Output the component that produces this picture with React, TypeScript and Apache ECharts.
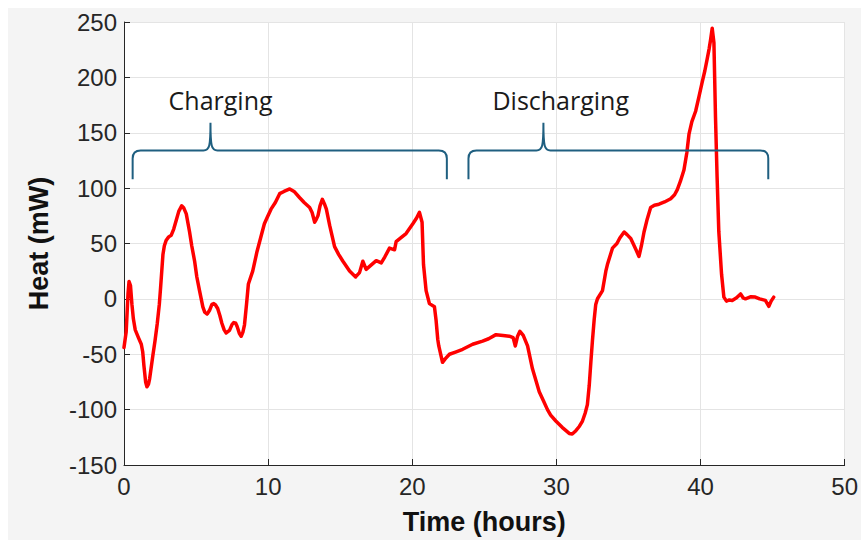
import React, { useEffect, useRef } from "react";
import * as echarts from "echarts";

// ---- Data ----
const timeHours = [
  0.0, 0.15, 0.28, 0.35, 0.45, 0.55, 0.65, 0.78, 1.0, 1.2, 1.3, 1.38, 1.5, 1.59, 1.7, 1.78, 2.0, 2.15, 2.31, 2.45,
  2.54, 2.62, 2.7, 2.8, 2.93, 3.1, 3.28, 3.45, 3.62, 3.8, 4.0, 4.15, 4.32, 4.55, 4.7, 4.9, 5.05, 5.24, 5.47, 5.6,
  5.77, 5.95, 6.1, 6.23, 6.35, 6.5, 6.65, 6.79, 6.95, 7.09, 7.32, 7.5, 7.62, 7.75, 7.85, 8.0, 8.13, 8.25, 8.36, 8.5,
  8.63, 8.93, 9.23, 9.56, 9.74, 9.95, 10.2, 10.5, 10.8, 11.1, 11.5, 11.8, 12.19, 12.5, 12.88, 13.05, 13.23, 13.35, 13.46, 13.6,
  13.76, 13.9, 14.04, 14.27, 14.61, 14.9, 15.19, 15.65, 16.07, 16.34, 16.57, 16.8, 17.1, 17.5, 17.85, 18.1, 18.42, 18.77, 18.88, 19.2,
  19.57, 20.04, 20.3, 20.5, 20.68, 20.78, 20.96, 21.19, 21.54, 21.65, 21.77, 21.84, 22.1, 22.3, 22.58, 23.0, 23.5, 24.19, 24.88, 25.3,
  25.81, 26.3, 26.73, 27.0, 27.15, 27.3, 27.47, 27.7, 28.0, 28.34, 28.81, 29.1, 29.38, 29.6, 29.96, 30.4, 30.89, 31.1, 31.35, 31.6,
  31.81, 32.0, 32.15, 32.28, 32.39, 32.5, 32.62, 32.73, 32.85, 33.2, 33.43, 33.54, 33.89, 34.2, 34.4, 34.7, 34.9, 35.16, 35.5, 35.73,
  35.9, 36.08, 36.3, 36.54, 36.8, 37.12, 37.5, 37.93, 38.2, 38.39, 38.6, 38.85, 39.05, 39.2, 39.4, 39.66, 39.9, 40.12, 40.3, 40.46,
  40.6, 40.7, 40.81, 40.93, 41.04, 41.15, 41.27, 41.46, 41.62, 41.8, 42.0, 42.2, 42.5, 42.78, 42.95, 43.12, 43.5, 43.8, 44.1, 44.5,
  44.74, 44.9, 45.08,
];
const heatMW = [
  -44, -30, 5, 15.7, 12, -5, -18, -28, -35, -41, -48, -60, -75, -79.4, -77, -72, -51.4, -38, -22, -5,
  10.4, 25, 39.8, 48, 53, 56, 57.5, 63, 70.8, 79, 84, 82, 76.7, 60.4, 48, 34, 20, 7.5, -7.2, -12,
  -13.7, -10, -5, -4.3, -5.5, -8.7, -15, -22, -28, -30.8, -28.4, -23, -21.4, -22, -24.9, -31, -33.7, -30, -23.4, -5,
  13.4, 25.1, 42.8, 59, 67.8, 74, 81, 87, 95, 97, 99.3, 97, 91.3, 87, 82.5, 78, 69.2, 72, 75.2, 84,
  89.9, 86, 81, 66.3, 47.2, 40, 34, 25.1, 19.8, 23.7, 34, 26.6, 30, 34.5, 32.5, 38, 45.8, 44.3, 51.6, 55,
  59, 67.8, 73, 78.1, 69.2, 31, 7.5, -4.3, -7.2, -19, -36.7, -42.5, -57.3, -54, -50, -48, -45.5, -41, -38.1, -36,
  -32.3, -33, -33.7, -35, -42.5, -34, -29.3, -33, -42.5, -63.2, -83.8, -92, -100, -105, -110.3, -116, -121.5, -122, -119, -115,
  -110.3, -103, -95.5, -78, -57.3, -38, -19, -5, 0.1, 7.5, 25, 31, 45.8, 50, 55, 60.4, 58, 54.6, 45, 38.3,
  48, 60.4, 72, 82.5, 84.5, 85.5, 87.5, 90.4, 94, 98.7, 106, 116.4, 132, 148.7, 160, 169.4, 183, 195.9, 206, 216.4,
  226, 234.1, 244.4, 231.2, 163.5, 110, 60.4, 22.2, 1.6, -2, -1, -1.4, 1, 4.5, 1, 0.1, 2, 1.6, 0, -1.4,
  -6.7, -2, 1.6,
];

const xTicks = [0, 10, 20, 30, 40, 50];
const yTicks = [-150, -100, -50, 0, 50, 100, 150, 200, 250];

// Phase annotations (brackets) in data units
const phaseNames = ["Charging", "Discharging"];
const phaseStart = [0.6, 23.9];
const phaseEnd = [22.4, 44.7];
const phasePeak = [6.0, 29.1];
const phaseLabelX = [6.7, 30.3];
const bracketLevel = 134;
const bracketFoot = 108;
const bracketTip = 159;
const phaseLabelY = 180;

export default function App() {
  const ref = useRef<HTMLDivElement>(null);

  useEffect(() => {
    if (!ref.current) return;
    const chart = echarts.init(ref.current, undefined, { renderer: "svg" });

    const lineData = timeHours.map((t, i) => [t, heatMW[i]]);
    const bracketData = phaseNames.map((_, i) => [
      phaseStart[i],
      phaseEnd[i],
      phasePeak[i],
      bracketLevel,
      bracketFoot,
      bracketTip,
      phaseLabelX[i],
      phaseLabelY,
    ]);

    const axisColor = "#262626";
    const tickFont = "'Liberation Sans', Arial, sans-serif";

    chart.setOption({
      animation: false,
      backgroundColor: "#f4f4f4",
      grid: {
        left: 116,
        right: 15,
        top: 14,
        bottom: 65,
        show: true,
        backgroundColor: "#ffffff",
        borderWidth: 0,
      },
      xAxis: {
        type: "value",
        min: xTicks[0],
        max: xTicks[xTicks.length - 1],
        interval: 10,
        name: "Time (hours)",
        nameLocation: "middle",
        nameGap: 43,
        nameTextStyle: { fontFamily: tickFont, fontWeight: "bold", fontSize: 27, color: "#111" },
        axisLine: { show: true, onZero: false, lineStyle: { color: axisColor, width: 1 } },
        axisTick: { show: true, inside: true, length: 6, lineStyle: { color: axisColor } },
        axisLabel: { fontFamily: tickFont, fontSize: 24, color: axisColor, margin: 9 },
        splitLine: { show: true, lineStyle: { color: "#e4e4e4", width: 1 } },
      },
      yAxis: {
        type: "value",
        min: yTicks[0],
        max: yTicks[yTicks.length - 1],
        interval: 50,
        name: "Heat (mW)",
        nameLocation: "middle",
        nameGap: 72,
        nameTextStyle: { fontFamily: tickFont, fontWeight: "bold", fontSize: 27, color: "#111" },
        axisLine: { show: true, onZero: false, lineStyle: { color: axisColor, width: 1 } },
        axisTick: { show: true, inside: true, length: 6, lineStyle: { color: axisColor } },
        axisLabel: { fontFamily: tickFont, fontSize: 24, color: axisColor, margin: 7 },
        splitLine: { show: true, lineStyle: { color: "#e4e4e4", width: 1 } },
      },
      series: [
        {
          type: "line",
          data: lineData,
          showSymbol: false,
          symbol: "none",
          lineStyle: { color: "#ff0000", width: 3.5, join: "round", cap: "round" },
          itemStyle: { color: "#ff0000" },
          z: 3,
        },
        {
          type: "custom",
          data: bracketData,
          z: 4,
          silent: true,
          clip: false,
          encode: { x: [0, 1, 2, 6], y: [3, 4, 5, 7] },
          renderItem: (params: any, api: any) => {
            const i = params.dataIndex;
            const s = api.value(0);
            const e = api.value(1);
            const p = api.value(2);
            const lvl = api.value(3);
            const foot = api.value(4);
            const tip = api.value(5);
            const lx = api.value(6);
            const ly = api.value(7);
            const [xL, yH] = api.coord([s, lvl]);
            const [xR] = api.coord([e, lvl]);
            const [xP, yT] = api.coord([p, tip]);
            const yF = api.coord([s, foot])[1];
            const [tx, ty] = api.coord([lx, ly]);
            const r = 8;
            const d =
              `M${xL},${yF} L${xL},${yH + r} Q${xL},${yH} ${xL + r},${yH} ` +
              `L${xP - 7},${yH} C${xP - 1},${yH} ${xP},${yH - 4} ${xP},${yT} ` +
              `C${xP},${yH - 4} ${xP + 1},${yH} ${xP + 7},${yH} ` +
              `L${xR - r},${yH} Q${xR},${yH} ${xR},${yH + r} L${xR},${yF}`;
            return {
              type: "group",
              children: [
                {
                  type: "path",
                  shape: { pathData: d },
                  style: { stroke: "#1f5f80", lineWidth: 2, fill: "none" },
                },
                {
                  type: "text",
                  x: tx,
                  y: ty,
                  style: {
                    text: phaseNames[i],
                    fontFamily: "'Open Sans', 'Noto Sans', sans-serif",
                    fontSize: 25,
                    fill: "#1a1a1a",
                    align: "center",
                    verticalAlign: "middle",
                  },
                },
              ],
            };
          },
        },
      ],
    });

    return () => chart.dispose();
  }, []);

  return (
    <div
      style={{
        position: "fixed",
        left: 0,
        top: 0,
        width: 861,
        height: 540,
        background: "#ffffff",
        overflow: "hidden",
      }}
    >
      <div
        ref={ref}
        style={{ position: "absolute", left: 8, top: 8, width: 853, height: 532 }}
      />
    </div>
  );
}
